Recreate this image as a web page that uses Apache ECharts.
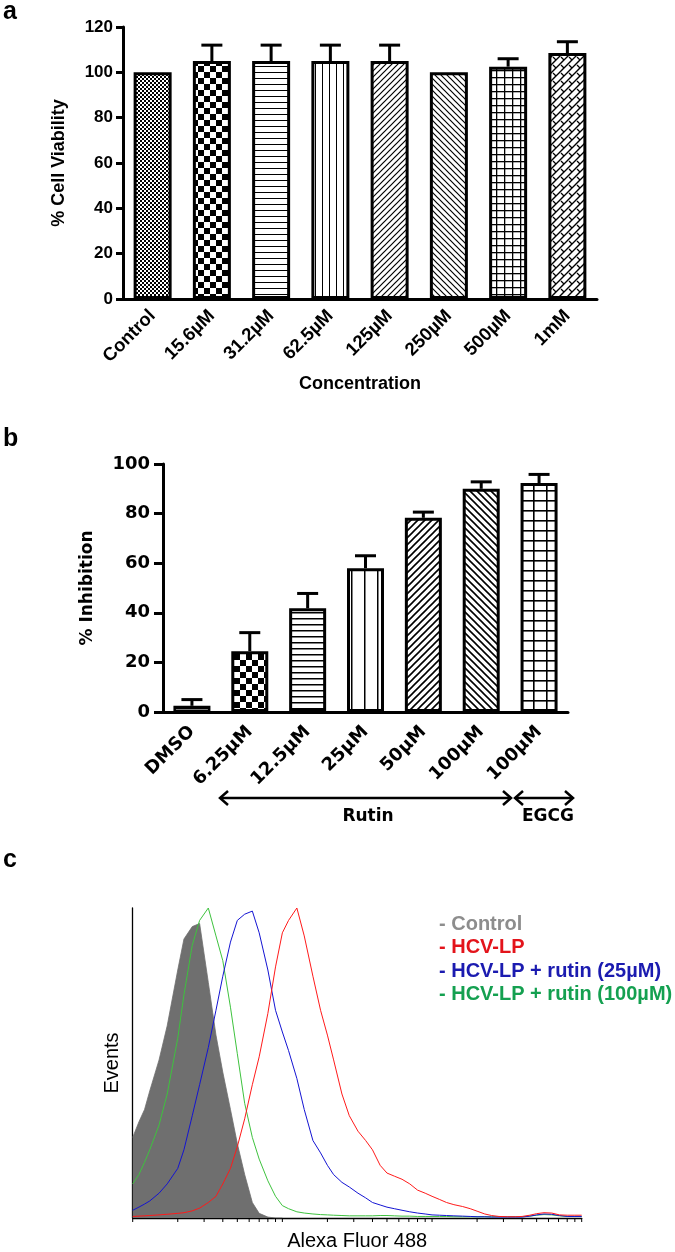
<!DOCTYPE html>
<html><head><meta charset="utf-8">
<script src="https://cdn.jsdelivr.net/npm/echarts@6/dist/echarts.min.js"></script>
<style>html,body{margin:0;padding:0;background:#fff}#chart{width:675px;height:1252px}</style>
</head><body><div id="chart"></div>
<script>
// ---------- Panel a: cell viability ----------
const catsA = ['Control','15.6µM','31.2µM','62.5µM','125µM','250µM','500µM','1mM'];
const valsA = [100, 105, 105, 105, 105, 100, 102.5, 108.5];
const errA  = [0, 7, 7, 7, 7, 0, 3.5, 5];
const yTicksA = {min: 0, max: 120, interval: 20};

// ---------- Panel b: inhibition ----------
const catsB = ['DMSO','6.25µM','12.5µM','25µM','50µM','100µM','100µM'];
const valsB = [2.5, 24.5, 41.8, 58, 78.3, 90, 92.3];
const errB  = [2.5, 7.5, 6, 5, 2.3, 2.8, 3.5];
const yTicksB = {min: 0, max: 100, interval: 20};

// ---------- Panel c: flow cytometry histograms (x = Alexa Fluor 488, log) ----------
const fluor = [1,1.1,1.2,1.3,1.5,1.7,2,2.2,2.5,2.8,
  3.2,3.6,4,4.5,5,5.6,6.3,7,8,9,
  10,11,12.5,14,16,18,20,22,25,28,
  32,36,40,45,50,56,63,71,80,90,
  100,112,125,140,160,180,200,225,250,280,
  320,360,400,450,500,560,630,710,800,900,1000];
const controlEv = [26,31,35,41,51,62,80,90,94,95,
  76,59,47,35,24,14,5,1.5,0.3,0,0];
const rutin100Ev = [11,14,18,22,30,40,58,72,88,96,
  100,91,83,68,53,37,26,19,12,7,
  4,3,2,1.6,1.3,1.1,1,0.9,0.8,0.7,
  0.7,0.7,0.7,0.8,0.8,0.7,0.6,0.6,0.5,0.5,
  0.5,0.5,0.5,0.4,0.4,0.4,0.4,0.4,0.4,0.4,
  0.4,0.4,0.4,0.6,0.9,1.1,1.0,0.7,0.5,0.5,0.5];
const rutin25Ev = [2.5,3.5,4.5,5.5,8,11,16,22,33,43,
  55,67,78,89,96,98,99,92,80,67,
  60,54,45,35,25,21,17,14,11.5,10,
  8,6.5,5,4.2,3.5,3,2.5,2,1.6,1.3,
  1,0.9,0.8,0.7,0.6,0.5,0.4,0.4,0.3,0.3,
  0.3,0.3,0.3,0.6,1.0,1.3,1.2,0.8,0.5,0.5,0.5];
const hcvEv = [0.5,0.6,0.7,0.8,1,1.2,1.5,1.7,2.3,3.2,
  5,7,11,16,23,32,43,52,66,81,
  92,96,100,91,78,67,59,51,40,33,
  28,25,22,17,14.5,13.5,12.5,11,9,8,
  7,6,5,4.3,3.7,3,2.2,1.3,0.8,0.5,
  0.4,0.4,0.5,0.9,1.4,1.7,1.6,1.0,0.9,0.9,0.9];
const xTickVals = [1,2,3,4,5,6,7,8,9,10,20,30,40,50,60,70,80,90,100,200,300,400,500,600,700,800,900,1000];

const AR = "'Liberation Sans', Arial, sans-serif";
const DV = "'DejaVu Sans', sans-serif";

function pat(w, h, draw) {
  const c = document.createElement('canvas'); c.width = w; c.height = h;
  const g = c.getContext('2d');
  g.fillStyle = '#fff'; g.fillRect(0, 0, w, h);
  g.fillStyle = '#000'; g.strokeStyle = '#000';
  draw(g, w, h);
  return {image: c, repeat: 'repeat'};
}
const check = s => pat(2*s, 2*s, g => { g.fillRect(0,0,s,s); g.fillRect(s,s,s,s); });
const hLines = (p, lw) => pat(4, p, g => g.fillRect(0, 0, 4, lw));
const vLines = (p, lw) => pat(p, 4, g => g.fillRect(0, 0, lw, 4));
const diag = (p, lw, up) => pat(p, p, g => {
  g.lineWidth = lw; g.beginPath();
  for (let k = -1; k <= 1; k++) {
    if (up) { g.moveTo(k*p - 1, p + 1); g.lineTo(k*p + p + 1, -1); }
    else { g.moveTo(k*p - 1, -1); g.lineTo(k*p + p + 1, p + 1); }
  }
  g.stroke();
});
const gridPat = (px, py, lw) => pat(px, py, g => { g.fillRect(0,0,lw,py); g.fillRect(0,0,px,lw); });
const brick = pat(8, 8, g => {
  g.lineWidth = 1.4; g.beginPath();
  for (let k = -1; k <= 1; k++) { g.moveTo(k*8 - 1, 9); g.lineTo(k*8 + 9, -1); }
  g.stroke();
  g.lineWidth = 1.2; g.beginPath(); g.moveTo(1,1); g.lineTo(4,4); g.stroke();
});
const fineCheck = pat(4, 4, g => { g.fillRect(0,0,2,2); g.fillRect(2,2,2,2); });
const dashPat = pat(6, 3, g => { g.fillRect(0,0,6,1); g.fillRect(3,2,3,1); });

const patA = [fineCheck, check(6), hLines(6,1), vLines(7,1), diag(6,1.2,true), diag(6,1.2,false), gridPat(8,7,1.3), brick];
const patB = [dashPat, check(6), hLines(6,1.5), vLines(13,1.5), diag(7,1.6,true), diag(7,1.6,false), gridPat(13,10,1.6)];

function errSeries(xi, yi, vals, errs, half) {
  return {
    type: 'custom', xAxisIndex: xi, yAxisIndex: yi, z: 5, silent: true, clip: false,
    data: vals.map((v, i) => [i, v, errs[i]]).filter(d => d[2] > 0),
    renderItem: (params, api) => {
      const p0 = api.coord([api.value(0), api.value(1)]);
      const p1 = api.coord([api.value(0), api.value(1) + api.value(2)]);
      const st = {stroke: '#000', lineWidth: 3};
      return {type: 'group', children: [
        {type: 'line', shape: {x1: p0[0], y1: p0[1], x2: p1[0], y2: p1[1]}, style: st},
        {type: 'line', shape: {x1: p1[0] - half, y1: p1[1], x2: p1[0] + half, y2: p1[1]}, style: st}
      ]};
    }
  };
}

const bold = (size, fam) => ({color: '#000', fontWeight: 'bold', fontSize: size, fontFamily: fam});

const chart = echarts.init(document.getElementById('chart'), null, {renderer: 'canvas'});
chart.setOption({
  animation: false,
  backgroundColor: '#fff',
  grid: [
    {left: 123, right: 78, top: 27, bottom: 953},
    {left: 163, right: 107, top: 464, bottom: 540},
    {left: 132.7, right: 93.3, top: 908, bottom: 34}
  ],
  xAxis: [
    {gridIndex: 0, type: 'category', data: catsA,
     axisLine: {lineStyle: {color: '#000', width: 3}},
     axisTick: {alignWithLabel: true, length: 7, lineStyle: {color: '#000', width: 3}},
     axisLabel: Object.assign({rotate: 45, margin: 14, interval: 0}, bold(18.5, AR)),
     name: 'Concentration', nameLocation: 'middle', nameGap: 76, nameTextStyle: bold(18, AR)},
    {gridIndex: 1, type: 'category', data: catsB,
     axisLine: {lineStyle: {color: '#000', width: 3}},
     axisTick: {alignWithLabel: true, length: 9, lineStyle: {color: '#000', width: 3}},
     axisLabel: Object.assign({rotate: 45, margin: 17, interval: 0}, bold(18, DV))},
    {gridIndex: 2, type: 'log', logBase: 10, min: 1, max: 1000,
     axisLine: {lineStyle: {color: '#000', width: 1.3}},
     axisTick: {show: false}, axisLabel: {show: false}, splitLine: {show: false},
     name: 'Alexa Fluor 488', nameLocation: 'middle', nameGap: 13,
     nameTextStyle: {color: '#000', fontSize: 20, fontFamily: AR}}
  ],
  yAxis: [
    {gridIndex: 0, type: 'value', min: yTicksA.min, max: yTicksA.max, interval: yTicksA.interval,
     axisLine: {show: true, lineStyle: {color: '#000', width: 3}},
     axisTick: {show: true, length: 7, lineStyle: {color: '#000', width: 3}},
     splitLine: {show: false},
     axisLabel: Object.assign({margin: 10}, bold(17, AR)),
     name: '% Cell Viability', nameLocation: 'middle', nameGap: 55, nameRotate: 90, nameTextStyle: bold(18, AR)},
    {gridIndex: 1, type: 'value', min: yTicksB.min, max: yTicksB.max, interval: yTicksB.interval,
     axisLine: {show: true, lineStyle: {color: '#000', width: 3}},
     axisTick: {show: true, length: 9, lineStyle: {color: '#000', width: 3}},
     splitLine: {show: false},
     axisLabel: Object.assign({margin: 13}, bold(18, DV)),
     name: '% Inhibition', nameLocation: 'middle', nameGap: 67, nameRotate: 90, nameTextStyle: bold(17, DV)},
    {gridIndex: 2, type: 'value', min: 0, max: 100,
     axisLine: {show: true, lineStyle: {color: '#000', width: 1.3}},
     axisTick: {show: false}, axisLabel: {show: false}, splitLine: {show: false},
     name: 'Events', nameLocation: 'middle', nameGap: 10, nameRotate: 90,
     nameTextStyle: {color: '#000', fontSize: 20, fontFamily: AR}}
  ],
  legend: {
    data: [
      {name: 'Control', textStyle: {color: '#8d8d8d'}},
      {name: 'HCV-LP', textStyle: {color: '#e3141b'}},
      {name: 'HCV-LP + rutin (25µM)', textStyle: {color: '#1b1bb0'}},
      {name: 'HCV-LP + rutin (100µM)', textStyle: {color: '#14a050'}}
    ],
    orient: 'vertical', left: 428, top: 909, itemWidth: 1, itemHeight: 1, itemGap: 3.5,
    icon: 'rect', itemStyle: {opacity: 0}, selectedMode: false, formatter: '- {name}',
    textStyle: {fontFamily: AR, fontWeight: 'bold', fontSize: 20}
  },
  series: [
    {type: 'bar', xAxisIndex: 0, yAxisIndex: 0, barWidth: 38, silent: true,
     itemStyle: {borderColor: '#000', borderWidth: 3},
     data: valsA.map((v, i) => ({value: v, itemStyle: {color: patA[i]}}))},
    errSeries(0, 0, valsA, errA, 10.5),
    {type: 'bar', xAxisIndex: 1, yAxisIndex: 1, barWidth: 37, silent: true,
     itemStyle: {borderColor: '#000', borderWidth: 3},
     data: valsB.map((v, i) => ({value: v, itemStyle: {color: patB[i], borderWidth: i === 0 ? 2.5 : 3}}))},
    errSeries(1, 1, valsB, errB, 10.5),
    {name: 'Control', type: 'line', xAxisIndex: 2, yAxisIndex: 2, showSymbol: false, silent: true,
     color: '#6f6f6f', lineStyle: {width: 0.8, color: '#6f6f6f'}, areaStyle: {color: '#6f6f6f', opacity: 1},
     data: controlEv.map((y, i) => [fluor[i], y])},
    {name: 'HCV-LP + rutin (100µM)', type: 'line', xAxisIndex: 2, yAxisIndex: 2, showSymbol: false, silent: true,
     color: '#3ec23e', lineStyle: {width: 1, color: '#3ec23e'},
     data: rutin100Ev.map((y, i) => [fluor[i], y])},
    {name: 'HCV-LP + rutin (25µM)', type: 'line', xAxisIndex: 2, yAxisIndex: 2, showSymbol: false, silent: true,
     color: '#1414d2', lineStyle: {width: 1, color: '#1414d2'},
     data: rutin25Ev.map((y, i) => [fluor[i], y])},
    {name: 'HCV-LP', type: 'line', xAxisIndex: 2, yAxisIndex: 2, showSymbol: false, silent: true,
     color: '#ff1a1a', lineStyle: {width: 1, color: '#ff1a1a'},
     data: hcvEv.map((y, i) => [fluor[i], y])},
    {type: 'custom', xAxisIndex: 2, yAxisIndex: 2, silent: true, clip: false, z: 6,
     data: xTickVals.map(v => [v, 0]),
     renderItem: (params, api) => {
       const p = api.coord([api.value(0), 0]);
       return {type: 'line', shape: {x1: p[0], y1: p[1], x2: p[0], y2: p[1] + 4},
               style: {stroke: '#000', lineWidth: 1}};
     }}
  ],
  graphic: [
    {type: 'text', left: 3, top: 0, style: {text: 'a', font: "bold 25px 'Liberation Sans', Arial", fill: '#000'}},
    {type: 'text', left: 3, top: 427, style: {text: 'b', font: "bold 25px 'Liberation Sans', Arial", fill: '#000'}},
    {type: 'text', left: 3, top: 848, style: {text: 'c', font: "bold 25px 'Liberation Sans', Arial", fill: '#000'}},
    {type: 'polyline', shape: {points: [[220,798],[511,798]]}, style: {stroke: '#000', lineWidth: 2.5}},
    {type: 'polyline', shape: {points: [[228,791],[220,798],[228,805]]}, style: {stroke: '#000', lineWidth: 2.5, fill: null}},
    {type: 'polyline', shape: {points: [[503,791],[511,798],[503,805]]}, style: {stroke: '#000', lineWidth: 2.5, fill: null}},
    {type: 'polyline', shape: {points: [[515,798],[573,798]]}, style: {stroke: '#000', lineWidth: 2.5}},
    {type: 'polyline', shape: {points: [[523,791],[515,798],[523,805]]}, style: {stroke: '#000', lineWidth: 2.5, fill: null}},
    {type: 'polyline', shape: {points: [[565,791],[573,798],[565,805]]}, style: {stroke: '#000', lineWidth: 2.5, fill: null}},
    {type: 'text', x: 368, y: 817, style: {text: 'Rutin', font: "bold 17px 'DejaVu Sans'", fill: '#000', align: 'center', verticalAlign: 'middle'}},
    {type: 'text', x: 548, y: 817, style: {text: 'EGCG', font: "bold 17px 'DejaVu Sans'", fill: '#000', align: 'center', verticalAlign: 'middle'}}
  ]
});
</script></body></html>
